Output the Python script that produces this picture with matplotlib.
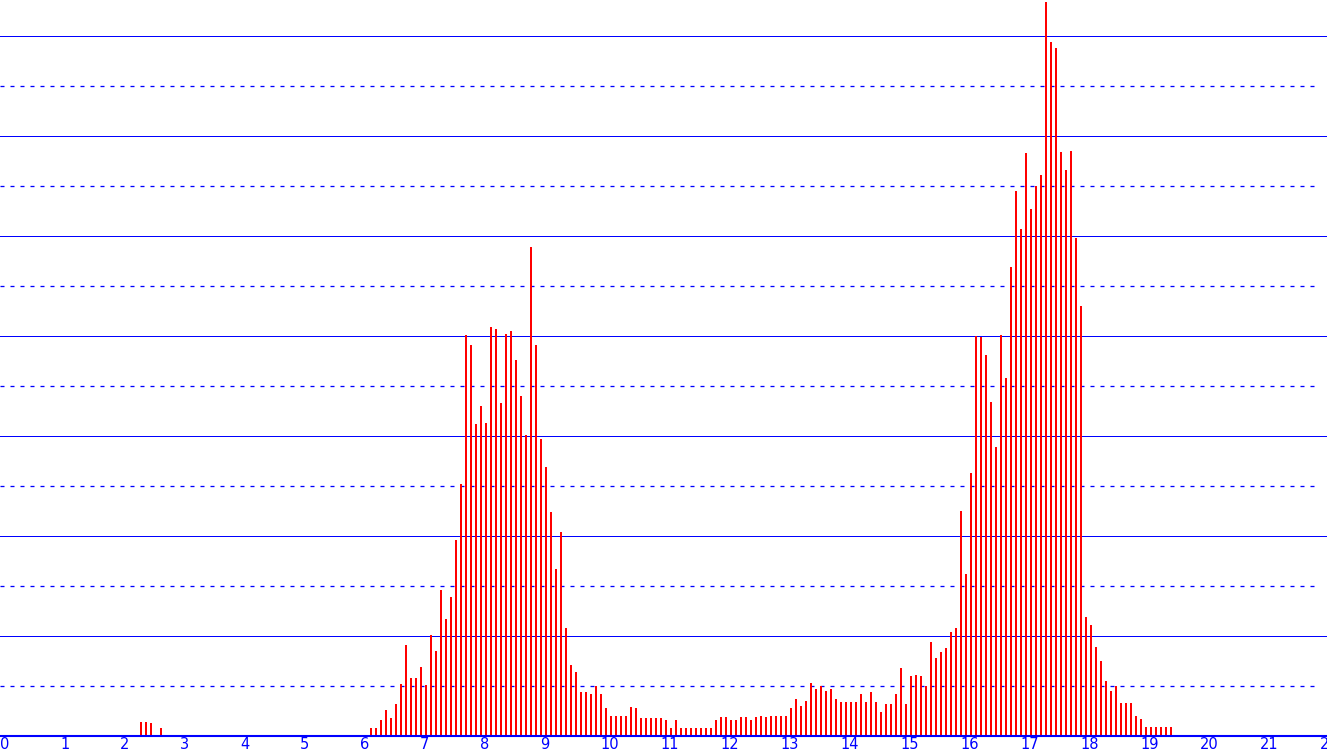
import matplotlib
matplotlib.use("Agg")
import matplotlib.pyplot as plt
import numpy as np

# bins are 1/12 of a unit wide; index -> x = index / 12
early_bins = [28, 29, 30, 32]
early_values = [14, 14, 13, 8]

main_first_bin = 74
main_values = [
    8, 8, 16, 26, 18, 32, 52, 91, 58, 58, 69, 51, 101, 85, 146, 117, 139, 196, 252, 401,
    391, 312, 330, 313, 409, 407, 333, 402, 405, 376, 340, 301, 489, 391, 297, 269, 224, 167, 204, 108,
    71, 64, 44, 44, 42, 50, 42, 28, 20, 20, 20, 20, 29, 28, 18, 18, 18, 18, 18, 16,
    8, 16, 8, 8, 8, 8, 8, 8, 8, 16, 19, 19, 16, 16, 19, 19, 16, 19, 20, 19,
    20, 20, 20, 20, 28, 37, 30, 35, 53, 47, 50, 45, 47, 37, 34, 34, 34, 34, 42, 34,
    44, 34, 24, 32, 32, 42, 68, 32, 60, 61, 60, 50, 94, 78, 84, 88, 104, 108, 225, 162,
    263, 400, 399, 381, 334, 289, 401, 358, 469, 545, 507, 583, 527, 550, 561, 734, 694, 688, 584, 566,
    585, 498, 430, 119, 111, 89, 75, 55, 45, 50, 33, 33, 33, 20, 17, 9, 9, 9, 9, 9,
    9,
]

tick_values = list(range(23))
tick_labels = [str(t) for t in tick_values]

bins = early_bins + [main_first_bin + i for i in range(len(main_values))]
values = early_values + main_values
x = np.array(bins) / 12.0

plt.rcParams['lines.scale_dashes'] = False

W, H = 1327, 756
fig = plt.figure(figsize=(W / 100, H / 100), dpi=100)
ax = fig.add_axes([0, 20 / H, 1, 736 / H])
ax.set_xlim(0, W / 60.0)
ax.set_ylim(0, 736)

blue = '#0000ff'
px = 0.72  # one pixel in points

for v in range(100, 701, 100):
    ax.axhline(v, color=blue, lw=px, zorder=1)
for v in range(50, 701, 100):
    ax.plot([0, 1320 / 60.0], [v, v], color=blue, lw=px * 1.3,
            dashes=(4 * px, 6 * px), zorder=1)

ax.bar(x, values, width=2.0 / 60.0, align='edge', color='#ff0000',
       linewidth=0, antialiased=True, zorder=2)

for s in ['top', 'left', 'right']:
    ax.spines[s].set_visible(False)
ax.spines['bottom'].set_color(blue)
ax.spines['bottom'].set_linewidth(1.5)
ax.spines['bottom'].set_zorder(3)

ax.set_yticks([])
ax.set_xticks(tick_values)
ax.set_xticklabels(tick_labels, ha='left', color=blue, fontsize=10.5)
ax.tick_params(axis='x', length=0, pad=1)

fig.savefig('out.png', dpi=100)
